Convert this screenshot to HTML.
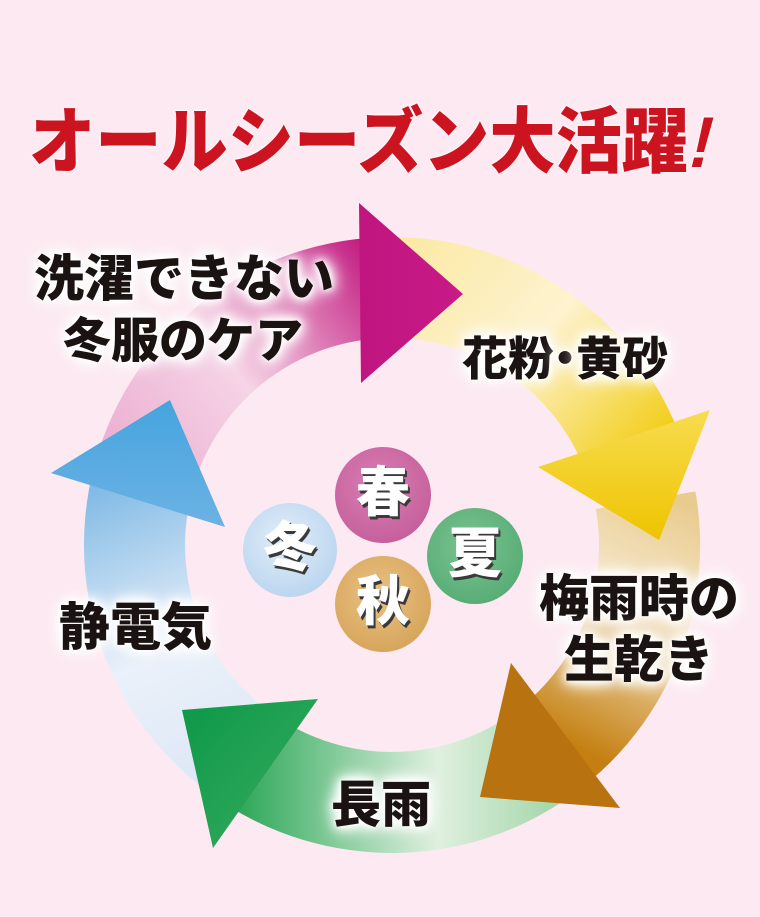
<!DOCTYPE html>
<html><head><meta charset="utf-8"><style>
html,body{margin:0;padding:0;}
body{width:760px;height:917px;position:relative;overflow:hidden;background:#fce9f1;font-family:"Liberation Sans","Noto Sans CJK JP",sans-serif;}
svg{position:absolute;left:0;top:0;}
.t{position:absolute;font-weight:900;color:#1a1311;white-space:nowrap;line-height:1;
text-shadow:0 0 6px #fff,0 0 10px #fff,0 0 14px #fff,0 0 18px #fff,0 0 22px #fff;}
.title{position:absolute;left:29px;top:107px;font-size:72px;font-weight:900;color:#cc1320;line-height:1;white-space:nowrap;transform-origin:0 0;transform:scaleX(0.92);text-shadow:0 0 3px #fff,0 0 3px #fff;}
.title i{display:inline-block;transform:skewX(-15deg);font-style:normal;margin-left:4px;}
.s{position:absolute;width:96px;height:96px;line-height:96px;text-align:center;font-size:54px;font-weight:900;color:#fff;text-shadow:2px 3px 0 #3a3a3a,1px 1px 0 #555;}
</style></head><body>
<div class="title">オールシーズン大活躍<i>!</i></div>
<svg width="760" height="917" viewBox="0 0 760 917">
<defs>
<linearGradient id="gm" gradientUnits="userSpaceOnUse" x1="90" y1="480" x2="380" y2="260"><stop offset="0" stop-color="#e9a7cd"/><stop offset="0.5" stop-color="#f6d4e6"/><stop offset="1" stop-color="#c2197f"/></linearGradient>
<linearGradient id="gy" gradientUnits="userSpaceOnUse" x1="400" y1="240" x2="640" y2="470"><stop offset="0" stop-color="#fbe9a3"/><stop offset="0.5" stop-color="#fdf3cf"/><stop offset="1" stop-color="#f2cc10"/></linearGradient>
<linearGradient id="gb" gradientUnits="userSpaceOnUse" x1="680" y1="500" x2="560" y2="740"><stop offset="0" stop-color="#e8cb8e"/><stop offset="0.4" stop-color="#f6e6c8"/><stop offset="1" stop-color="#c47f10"/></linearGradient>
<linearGradient id="gg" gradientUnits="userSpaceOnUse" x1="600" y1="760" x2="240" y2="760"><stop offset="0" stop-color="#8fcc96"/><stop offset="0.45" stop-color="#dff0df"/><stop offset="1" stop-color="#2fa85a"/></linearGradient>
<linearGradient id="gl" gradientUnits="userSpaceOnUse" x1="260" y1="820" x2="120" y2="470"><stop offset="0" stop-color="#d8e3f3"/><stop offset="0.5" stop-color="#eaf1fa"/><stop offset="1" stop-color="#7db8e4"/></linearGradient>
<linearGradient id="hm" x1="0" y1="0" x2="1" y2="0"><stop offset="0" stop-color="#c0157f"/><stop offset="1" stop-color="#c81a88"/></linearGradient>
<linearGradient id="hy" x1="0" y1="0" x2="0" y2="1"><stop offset="0" stop-color="#f7dc50"/><stop offset="1" stop-color="#eec400"/></linearGradient>
<linearGradient id="hg" x1="0" y1="0" x2="1" y2="1"><stop offset="0" stop-color="#0c9848"/><stop offset="1" stop-color="#3aac60"/></linearGradient>
<linearGradient id="hl" x1="0" y1="0" x2="0" y2="1"><stop offset="0" stop-color="#45a4de"/><stop offset="1" stop-color="#6cb2e4"/></linearGradient>
<radialGradient id="c1" cx="0.45" cy="0.4" r="0.6"><stop offset="0" stop-color="#d97fb4"/><stop offset="1" stop-color="#c6609c"/></radialGradient>
<radialGradient id="c2" cx="0.45" cy="0.4" r="0.6"><stop offset="0" stop-color="#7cc491"/><stop offset="1" stop-color="#58ad76"/></radialGradient>
<radialGradient id="c3" cx="0.45" cy="0.4" r="0.6"><stop offset="0" stop-color="#e9c183"/><stop offset="1" stop-color="#d7a65c"/></radialGradient>
<radialGradient id="c4" cx="0.45" cy="0.4" r="0.6"><stop offset="0" stop-color="#e2eef9"/><stop offset="1" stop-color="#bcd6ef"/></radialGradient>
</defs>
<path d="M 88.6 491.4 A 308 308 0 0 1 381.2 237.2 L 384.8 338.1 A 207 207 0 0 0 188.1 509 Z" fill="url(#gm)"/>
<path d="M 381.2 237.2 A 308 308 0 0 1 681.5 439.7 L 586.5 474.2 A 207 207 0 0 0 384.8 338.1 Z" fill="url(#gy)"/>
<path d="M 261.7 824.1 A 308 308 0 0 1 94.5 465.2 L 192.1 491.4 A 207 207 0 0 0 304.5 732.6 Z" fill="url(#gl)"/>
<path d="M 581.6 787.7 A 308 308 0 0 1 228.8 806.2 L 282.3 720.5 A 207 207 0 0 0 519.4 708.1 Z" fill="url(#gg)"/>
<path d="M 695.4 491.4 A 308 308 0 0 1 590 781 L 525.1 703.6 A 207 207 0 0 0 595.9 509 Z" fill="url(#gb)"/>
<polygon points="359,203 463,294 361,383" fill="url(#hm)"/>
<polygon points="538,467 710,410 659,540" fill="url(#hy)"/>
<polygon points="511,663 620,808 480,797" fill="#b8720f"/>
<polygon points="182,710 318,699 213,848" fill="url(#hg)"/>
<polygon points="170,400 51,473 225,527" fill="url(#hl)"/>
<circle cx="383" cy="495" r="48" fill="url(#c1)"/>
<circle cx="475" cy="556" r="48" fill="url(#c2)"/>
<circle cx="383" cy="604" r="48" fill="url(#c3)"/>
<circle cx="290" cy="550" r="47" fill="url(#c4)"/>
</svg>
<div class="s" style="left:335px;top:445px;">春</div>
<div class="s" style="left:427px;top:506px;">夏</div>
<div class="s" style="left:335px;top:554px;">秋</div>
<div class="s" style="left:242px;top:500px;">冬</div>
<div class="t" style="left:34px;top:254px;font-size:50px;">洗濯できない</div>
<div class="t" style="left:63px;top:318px;font-size:48px;">冬服のケア</div>
<div class="t" style="left:462px;top:336px;font-size:46px;">花粉<span style="margin:0 -12px;">・</span>黄砂</div>
<div class="t" style="left:539px;top:574px;font-size:50px;">梅雨時の</div>
<div class="t" style="left:564px;top:635px;font-size:50px;">生乾き</div>
<div class="t" style="left:59px;top:602px;font-size:51px;">静電気</div>
<div class="t" style="left:331px;top:780px;font-size:50px;">長雨</div>
</body></html>
